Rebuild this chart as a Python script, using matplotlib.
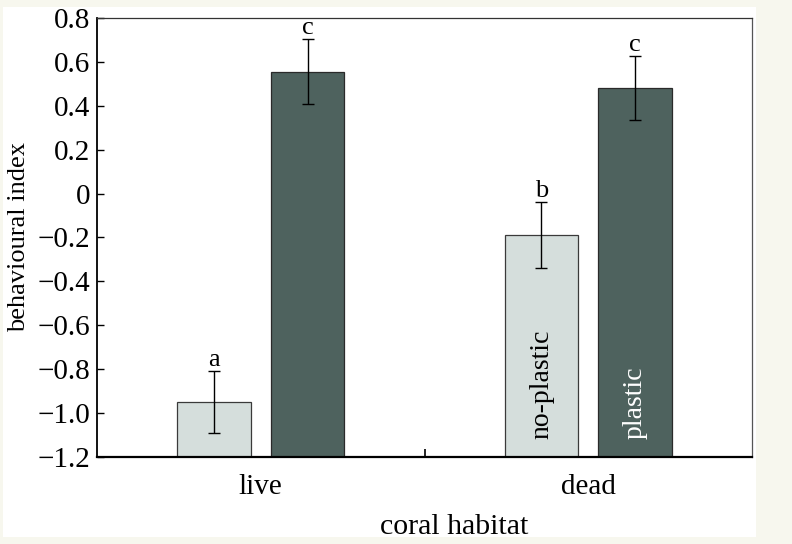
import matplotlib
matplotlib.use("Agg")
import matplotlib.pyplot as plt
from matplotlib.patches import Rectangle
import numpy as np

plt.rcParams['font.family'] = ['Liberation Serif', 'DejaVu Serif']

habitats = ['live', 'dead']
no_plastic = [-0.95, -0.19]
no_plastic_err = [0.143, 0.15]
plastic = [0.555, 0.48]
plastic_err = [0.148, 0.145]
letters_no_plastic = ['a', 'b']
letters_plastic = ['c', 'c']

light = '#d5dedc'
dark = '#4e625e'
base = -1.2

fig = plt.figure(figsize=(7.92, 5.44), dpi=100, facecolor='#f7f7ee')
fig.patches.append(Rectangle((0.004, 0.012), 0.95, 0.975, transform=fig.transFigure,
                             facecolor='white', edgecolor='none', zorder=-1))
ax = fig.add_axes([0.1225, 0.160, 0.827, 0.807])

x = np.arange(len(habitats))
off = 0.143
w = 0.225

ekw = dict(ecolor='black', elinewidth=1.0, capsize=4, capthick=1.0)
ax.bar(x - off, np.array(no_plastic) - base, w, bottom=base, color=light,
       edgecolor='#3a3a3a', linewidth=0.9, yerr=no_plastic_err, error_kw=ekw, zorder=2)
ax.bar(x + off, np.array(plastic) - base, w, bottom=base, color=dark,
       edgecolor='#2a2a2a', linewidth=0.9, yerr=plastic_err, error_kw=ekw, zorder=2)

# significance letters
for i in range(len(habitats)):
    ax.text(x[i] - off, no_plastic[i] + no_plastic_err[i], letters_no_plastic[i],
            ha='center', va='bottom', fontsize=19)
    ax.text(x[i] + off, plastic[i] + plastic_err[i], letters_plastic[i],
            ha='center', va='bottom', fontsize=19)

# in-bar labels
ax.text(x[1] - off, -1.12, 'no-plastic', rotation=90, ha='center', va='bottom',
        fontsize=20, color='black')
ax.text(x[1] + off, -1.12, 'plastic', rotation=90, ha='center', va='bottom',
        fontsize=20, color='white')

ax.set_xlim(-0.5, 1.5)
ax.set_ylim(-1.2, 0.8)
ax.set_yticks(np.arange(-1.2, 0.81, 0.2))
ax.set_yticklabels(['\u22121.2', '\u22121.0', '\u22120.8', '\u22120.6', '\u22120.4',
                    '\u22120.2', '0', '0.2', '0.4', '0.6', '0.8'])
ax.set_xticks(x)
ax.set_xticklabels(habitats)
ax.set_xticks([0.5], minor=True)
ax.tick_params(axis='x', which='major', length=0, pad=12, labelsize=21)
ax.tick_params(axis='x', which='minor', direction='in', length=6, width=1.2)
ax.tick_params(axis='y', direction='in', length=5, width=1.0, labelsize=21, pad=5)

ax.set_xlabel('coral habitat', fontsize=21.5, labelpad=10, x=0.545)
ax.set_ylabel('behavioural index', fontsize=19, labelpad=5)

ax.spines['bottom'].set_linewidth(1.6)
ax.spines['left'].set_linewidth(1.3)
ax.spines['top'].set_linewidth(0.9)
ax.spines['right'].set_linewidth(0.9)
ax.spines['top'].set_color('#333333')
ax.spines['right'].set_color('#555555')

fig.savefig('out.png', dpi=100, facecolor=fig.get_facecolor())
